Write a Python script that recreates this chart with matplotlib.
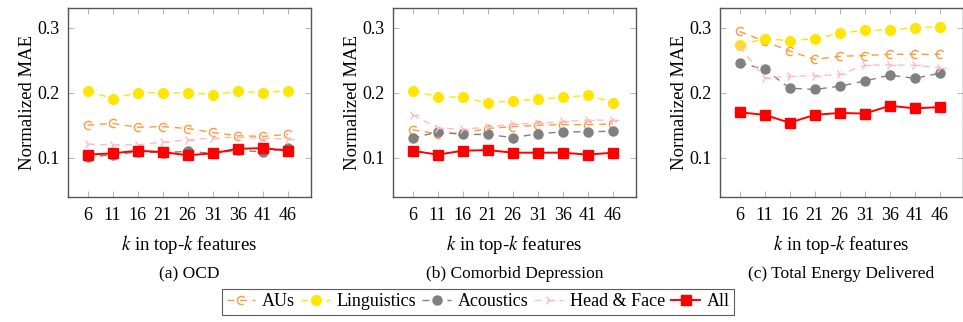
import numpy as np
import matplotlib.pyplot as plt
from matplotlib.path import Path

plt.rcParams['font.family'] = ['Liberation Serif', 'DejaVu Serif']
plt.rcParams['mathtext.fontset'] = 'stix'

# data
k = [6, 11, 16, 21, 26, 31, 36, 41, 46]

ocd_aus = [0.150, 0.153, 0.147, 0.148, 0.145, 0.139, 0.134, 0.133, 0.136]
ocd_ling = [0.203, 0.191, 0.200, 0.200, 0.200, 0.197, 0.202, 0.200, 0.203]
ocd_acou = [0.101, 0.105, 0.109, 0.108, 0.110, 0.107, 0.112, 0.109, 0.115]
ocd_head = [0.121, 0.120, 0.120, 0.124, 0.128, 0.130, 0.132, 0.130, 0.129]
ocd_all = [0.105, 0.107, 0.111, 0.109, 0.104, 0.107, 0.114, 0.115, 0.111]

dep_aus = [0.143, 0.137, 0.138, 0.145, 0.148, 0.150, 0.151, 0.151, 0.152]
dep_ling = [0.203, 0.194, 0.193, 0.184, 0.188, 0.190, 0.193, 0.196, 0.185]
dep_acou = [0.130, 0.140, 0.136, 0.136, 0.131, 0.137, 0.140, 0.140, 0.141]
dep_head = [0.166, 0.146, 0.144, 0.147, 0.152, 0.153, 0.156, 0.158, 0.158]
dep_all = [0.111, 0.105, 0.111, 0.112, 0.108, 0.108, 0.108, 0.105, 0.108]

ted_aus = [0.294, 0.279, 0.264, 0.251, 0.256, 0.257, 0.259, 0.259, 0.259]
ted_ling = [0.273, 0.283, 0.280, 0.283, 0.291, 0.296, 0.296, 0.300, 0.301]
ted_acou = [0.246, 0.236, 0.207, 0.205, 0.210, 0.218, 0.227, 0.222, 0.230]
ted_head = [0.271, 0.223, 0.225, 0.226, 0.228, 0.242, 0.243, 0.242, 0.238]
ted_all = [0.170, 0.166, 0.154, 0.166, 0.169, 0.168, 0.180, 0.176, 0.178]

panels = [
    ("(a) OCD", ocd_aus, ocd_ling, ocd_acou, ocd_head, ocd_all),
    ("(b) Comorbid Depression", dep_aus, dep_ling, dep_acou, dep_head, dep_all),
    ("(c) Total Energy Delivered", ted_aus, ted_ling, ted_acou, ted_head, ted_all),
]

# open arc marker, roughly like the pgfplots one used for AUs
arc = Path.arc(40, 300)

W, H = 963, 322
fig = plt.figure(figsize=(W / 100, H / 100), dpi=100)
lefts = [68, 393, 720]
aw, top, bot = 243, 8, 197

for i, (cap, aus, ling, acou, head, al) in enumerate(panels):
    ax = fig.add_axes([lefts[i] / W, (H - bot) / H, aw / W, (bot - top) / H])
    ax.plot(k, aus, color='#ff9a3c', ls=(0, (5, 4)), lw=1.0, marker=arc,
            ms=6, mfc='none', mew=1.0, label='AUs')
    ax.plot(k, ling, color='#ffe600', ls=(0, (5, 4)), lw=1.0, marker='o',
            ms=7, mec='#ffe600', label='Linguistics')
    ax.plot(k, acou, color='#808080', ls=(0, (5, 4)), lw=1.0, marker='o',
            ms=6.5, label='Acoustics')
    ax.plot(k, head, color='#ffbcc4', ls=(0, (5, 4)), lw=1.0, marker='4',
            ms=8, mew=1.0, label='Head & Face')
    ax.plot(k, al, color='#ff0000', ls='-', lw=1.4, marker='s', ms=7,
            label='All')

    ax.set_xlim(2.1, 50.6)
    ax.set_ylim(0.04, 0.33)
    ax.set_xticks(k)
    ax.set_yticks([0.1, 0.2, 0.3])
    ax.set_yticklabels(['0.1', '0.2', '0.3'])
    ax.tick_params(direction='in', length=4, width=0.6, color='#aaaaaa',
                   labelsize=13, top=True, right=True, pad=6)
    ax.tick_params(axis='x', pad=7)
    for s in ax.spines.values():
        s.set_color('#555555')
        s.set_linewidth(1.0)
    ax.set_ylabel('Normalized MAE', fontsize=13.5, labelpad=1)
    ax.set_xlabel(r'$k$ in top-$k$ features', fontsize=13.5, labelpad=7)
    fig.text((lefts[i] + aw / 2) / W, (H - 274) / H, cap, ha='center',
             va='center', fontsize=12.5)
    if i == 0:
        handles, labels = ax.get_legend_handles_labels()

leg = fig.legend(handles, labels, loc='center', ncol=5,
                 bbox_to_anchor=(478 / W, (H - 302) / H), fontsize=13,
                 frameon=True, fancybox=False, edgecolor='#333333',
                 handlelength=1.6, handletextpad=0.35, columnspacing=0.35,
                 borderpad=0.25, borderaxespad=0)
leg.get_frame().set_linewidth(0.8)

fig.savefig('out.png', dpi=100)
